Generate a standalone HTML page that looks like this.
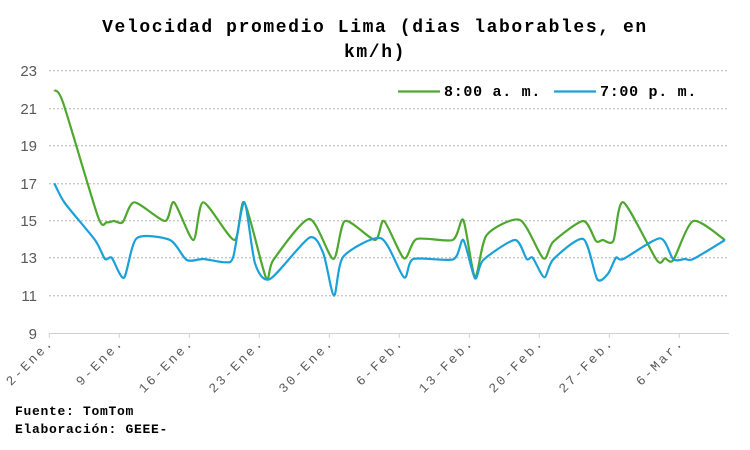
<!DOCTYPE html>
<html><head><meta charset="utf-8"><style>body{margin:0;background:#fff}svg{display:block}</style></head><body>
<svg id="s" width="750" height="450" xmlns="http://www.w3.org/2000/svg">
<rect width="750" height="450" fill="#fff"/>
<g font-family="Liberation Mono, monospace" font-weight="bold" font-size="18" fill="#000" text-anchor="middle" letter-spacing="1.6">
<text x="375" y="32">Velocidad promedio Lima (dias laborables, en</text>
<text x="375" y="57">km/h)</text>
</g>
<g stroke="#c8c8c8" stroke-width="1.3" stroke-dasharray="2,2">
<line x1="49" x2="729" y1="70.7" y2="70.7"/><line x1="49" x2="729" y1="108.7" y2="108.7"/>
<line x1="49" x2="729" y1="145.7" y2="145.7"/><line x1="49" x2="729" y1="183.7" y2="183.7"/>
<line x1="49" x2="729" y1="220.7" y2="220.7"/><line x1="49" x2="729" y1="257.7" y2="257.7"/>
<line x1="49" x2="729" y1="295.7" y2="295.7"/>
</g>
<line x1="49" x2="729" y1="333.5" y2="333.5" stroke="#d0d0d0" stroke-width="1"/>
<g id="ticks" stroke="#d0d0d0" stroke-width="1"></g>
<g font-family="Liberation Sans, sans-serif" font-size="15" fill="#595959" text-anchor="end">
<text x="37" y="76">23</text><text x="37" y="114">21</text><text x="37" y="151">19</text><text x="37" y="189">17</text>
<text x="37" y="226">15</text><text x="37" y="263">13</text><text x="37" y="301">11</text><text x="37" y="339">9</text>
</g>
<g id="xl" font-family="Liberation Mono, monospace" font-size="13" fill="#595959" text-anchor="end" letter-spacing="2.4"></g>
<path id="g" fill="none" stroke="#4ea72e" stroke-width="2.2"/>
<path id="b" fill="none" stroke="#1ba1d9" stroke-width="2.2"/>
<line x1="398" x2="440" y1="91.5" y2="91.5" stroke="#4ea72e" stroke-width="2.2"/>
<line x1="554" x2="596" y1="91.5" y2="91.5" stroke="#1ba1d9" stroke-width="2.2"/>
<g font-family="Liberation Mono, monospace" font-weight="bold" font-size="15" fill="#000" letter-spacing="0.7">
<text x="444" y="96">8:00 a. m.</text><text x="600" y="96">7:00 p. m.</text>
</g>
<g font-family="Liberation Mono, monospace" font-weight="bold" font-size="13" fill="#000" letter-spacing="0.7">
<text x="15" y="415">Fuente: TomTom</text><text x="15" y="433">Elaboración: GEEE-</text>
</g>
</svg>
<script>
var G=[[54.3,90],[63.3,103.3],[98,216.7],[106.7,222.3],[114,221],[122.7,222.3],[134.3,202.3],[165,221],[174,202.3],[193.3,240],[203.3,202.3],[234.3,240],[244.3,202.3],[266,277.7],[273.3,260],[309.3,219],[333.3,259],[345,221],[375,240],[384,221],[404,258.3],[416.7,239],[452.7,240],[463.3,220],[475,276.7],[486.7,235],[520,220],[543.3,258.3],[553.3,241.7],[583.3,221],[596,241],[602.7,240],[613.3,241],[623.3,202.3],[656.7,260],[665,258.3],[673.3,260],[693.3,221],[725,240]];
var B=[[54.3,183.3],[65,203.3],[95,240],[105,259],[111.7,257.7],[124,277.7],[136.7,238.3],[170,240],[186.7,260],[203.3,259],[225,262.3],[233.3,256.7],[244.3,202.3],[255,263.3],[270,279],[309.3,237.7],[323.3,253.3],[334,295.7],[343.3,256.7],[381,238.3],[404,277.3],[413.3,259],[453.3,259.3],[463.3,240],[475,278.3],[483.3,260],[515,240],[526.7,259],[532.7,257.7],[544.3,277.3],[553.3,259.3],[583.3,239],[597.3,279.3],[608.3,273.3],[616,257.7],[623.3,259],[660,238.3],[673.3,259.3],[685,259],[693.3,259],[725,240]];
function sm(p){var d="M"+p[0][0]+","+p[0][1];for(var i=0;i<p.length-1;i++){var a=p[i-1]||p[i],b=p[i],c=p[i+1],e=p[i+2]||c,t=8;d+=" C"+(b[0]+(c[0]-a[0])/t)+","+(b[1]+(c[1]-a[1])/t)+" "+(c[0]-(e[0]-b[0])/t)+","+(c[1]-(e[1]-b[1])/t)+" "+c[0]+","+c[1];}return d;}
document.getElementById("g").setAttribute("d",sm(G));
document.getElementById("b").setAttribute("d",sm(B));
var L=["2-Ene.","9-Ene.","16-Ene.","23-Ene.","30-Ene.","6-Feb.","13-Feb.","20-Feb.","27-Feb.","6-Mar."],tk="",xl="";
for(var i=0;i<10;i++){var x=49.3+70*i;tk+='<line x1="'+x+'" x2="'+x+'" y1="333" y2="338"/>';xl+='<text transform="translate('+(x+5)+',343) rotate(-45)">'+L[i]+'</text>';}
document.getElementById("ticks").innerHTML=tk;document.getElementById("xl").innerHTML=xl;
</script>
</body></html>
